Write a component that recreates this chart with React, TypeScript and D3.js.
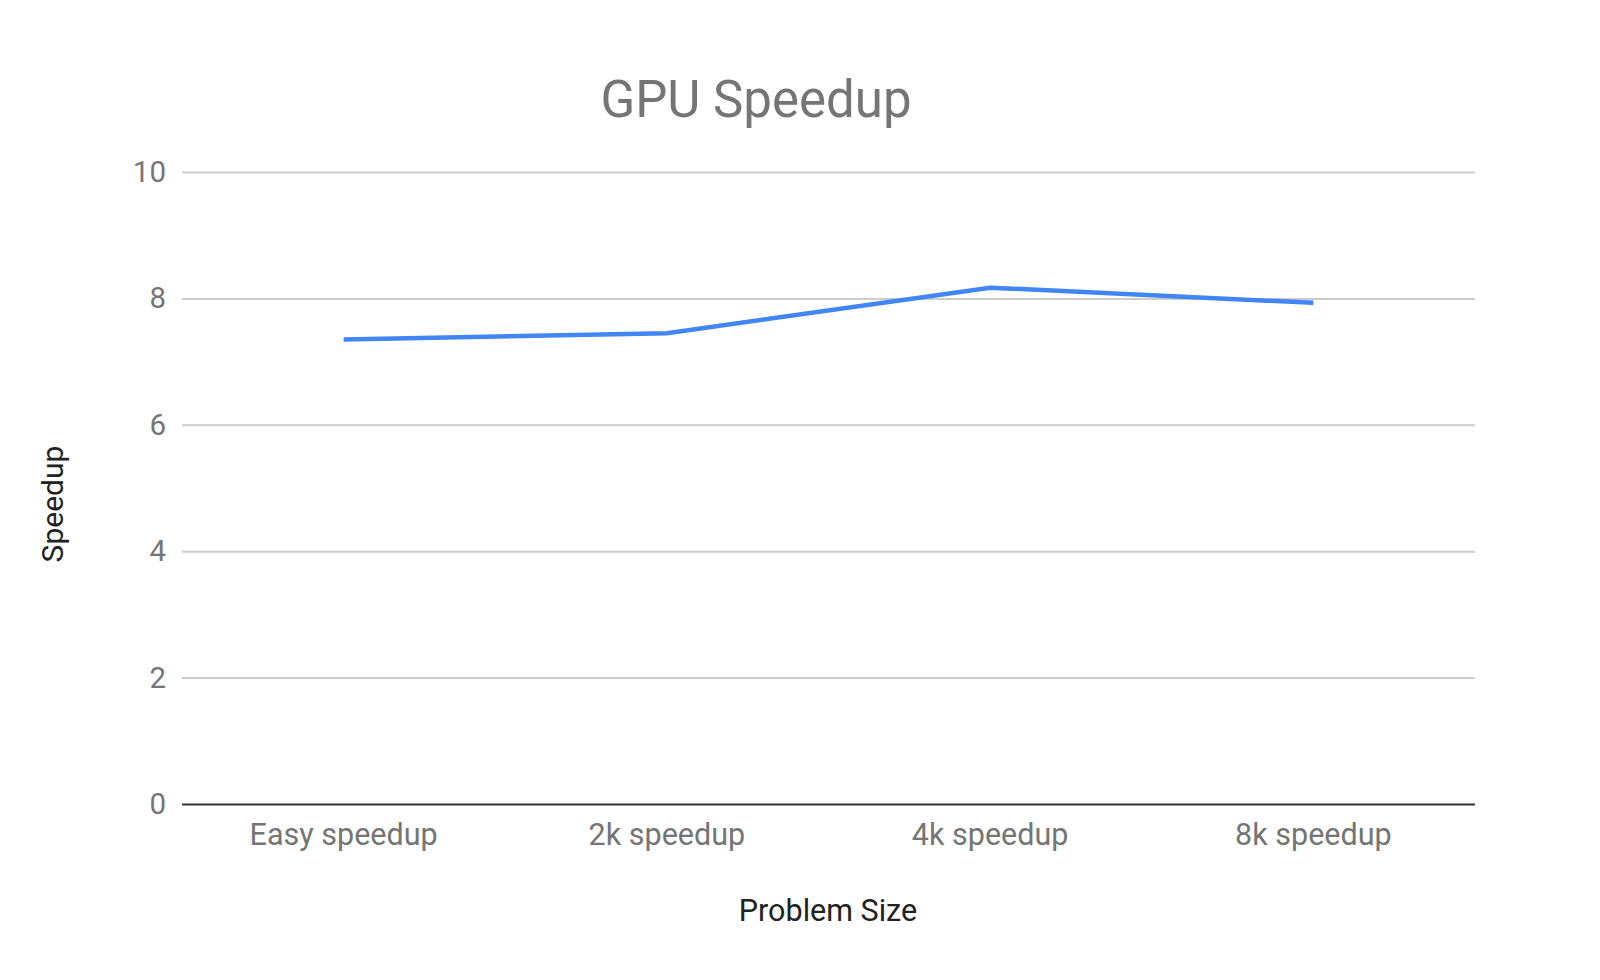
import React, { useRef, useEffect } from 'react';
import * as d3 from 'd3';

const categories = ['Easy speedup', '2k speedup', '4k speedup', '8k speedup'];
const speedups = [7.35, 7.45, 8.17, 7.93];
const yTicks = [0, 2, 4, 6, 8, 10];

export default function App() {
  const svgRef = useRef<SVGSVGElement>(null);

  useEffect(() => {
    const width = 1600;
    const height = 980;
    const marginLeft = 182;
    const marginRight = 125;
    const marginTop = 172;
    const marginBottom = 176;
    const font = 'Roboto, sans-serif';

    const svg = d3.select(svgRef.current);
    svg.selectAll('*').remove();
    svg.attr('width', width).attr('height', height).attr('viewBox', [0, 0, width, height]);

    svg.append('rect').attr('width', width).attr('height', height).attr('fill', '#fff');

    const x = d3.scaleBand()
      .domain(categories)
      .range([marginLeft, width - marginRight]);

    const y = d3.scaleLinear()
      .domain([0, 10])
      .range([height - marginBottom, marginTop]);

    // grid + y labels
    const yAxis = svg.append('g')
      .attr('transform', `translate(${marginLeft},0)`)
      .call(d3.axisLeft(y).tickValues(yTicks).tickSize(-(width - marginLeft - marginRight)).tickPadding(16).tickFormat(d3.format('d')));
    yAxis.select('.domain').remove();
    yAxis.selectAll('.tick line')
      .attr('stroke', d => (d === 0 ? '#333' : '#ccc'))
      .attr('stroke-width', 2);
    yAxis.selectAll('.tick text')
      .attr('font-family', font)
      .attr('font-size', 29.5)
      .attr('fill', '#757575');

    // x labels
    const xAxis = svg.append('g')
      .attr('transform', `translate(0,${height - marginBottom})`)
      .call(d3.axisBottom(x).tickSize(0).tickPadding(19));
    xAxis.select('.domain').remove();
    xAxis.selectAll('.tick text')
      .attr('font-family', font)
      .attr('font-size', 30.5)
      .attr('fill', '#757575');

    const line = d3.line<number>()
      .x((_, i) => (x(categories[i]) ?? 0) + x.bandwidth() / 2)
      .y(d => y(d));

    svg.append('path')
      .datum(speedups)
      .attr('fill', 'none')
      .attr('stroke', '#4285f4')
      .attr('stroke-width', 4.5)
      .attr('d', line);

    svg.append('text')
      .attr('x', 756)
      .attr('y', 117)
      .attr('text-anchor', 'middle')
      .attr('font-family', font)
      .attr('font-size', 51)
      .attr('fill', '#757575')
      .text('GPU Speedup');

    svg.append('text')
      .attr('x', 828)
      .attr('y', 921)
      .attr('text-anchor', 'middle')
      .attr('font-family', font)
      .attr('font-size', 30.5)
      .attr('fill', '#222')
      .text('Problem Size');

    svg.append('text')
      .attr('transform', 'translate(63,504) rotate(-90)')
      .attr('text-anchor', 'middle')
      .attr('font-family', font)
      .attr('font-size', 30)
      .attr('fill', '#222')
      .text('Speedup');
  }, []);

  return (
    <div style={{ position: 'absolute', left: 0, top: 0 }}>
      <svg ref={svgRef}></svg>
    </div>
  );
}
